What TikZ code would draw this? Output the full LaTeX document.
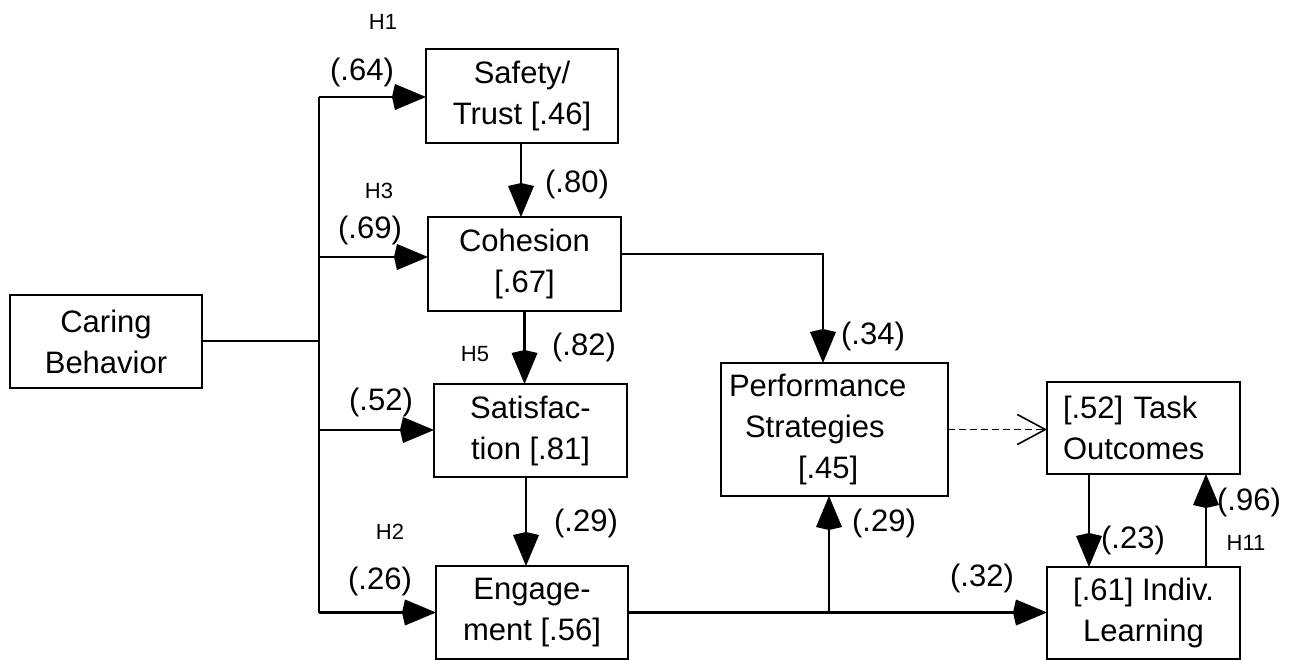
\documentclass[tikz,border=0pt]{standalone}
\usepackage{fontspec}
\setmainfont{Liberation Sans}
\usetikzlibrary{arrows.meta}
\begin{document}
\begin{tikzpicture}[x=1pt,y=-1pt,
  box/.style={draw, line width=2.6pt, inner sep=0pt, outer sep=0pt,
    align=center, font=\fontsize{31}{41}\selectfont},
  lab/.style={inner sep=0pt, font=\fontsize{31}{31}\selectfont},
  hyp/.style={inner sep=0pt, font=\fontsize{22}{22}\selectfont},
  conn/.style={line width=2.2pt},
  head/.style={-{Kite[length=34pt,width=26pt,inset=3pt]}},
  dashline/.style={line width=1.6pt, dash pattern=on 7pt off 4pt,
    -{Straight Barb[length=28pt,width=30pt,line width=1.6pt]}}
]
\useasboundingbox (0,0) rectangle (1298,660);

% constructs
\node[box, minimum width=192pt, minimum height=93pt] (caring) at (106,341.5) {Caring\\Behavior};
\node[box, minimum width=192pt, minimum height=94pt] (safety) at (522,96) {Safety/\\Trust [.46]};
\node[box, minimum width=193pt, minimum height=94pt] (cohesion) at (524.5,264) {Cohesion\\{[}.67]};
\node[box, minimum width=193pt, minimum height=93pt] (satis) at (530.5,430.5) {Satisfac-\\tion [.81]};
\node[box, minimum width=192pt, minimum height=93pt] (engage) at (532,612.5) {Engage-\\ment [.56]};
\node[box, minimum width=227pt, minimum height=133pt, text width=211pt, align=left] (perf) at (834.5,429.5)
  {Performance\\\hspace*{16pt}Strategies\\\hspace*{69pt}[.45]};
\node[box, minimum width=193pt, minimum height=92pt, text width=161pt, align=left] (task) at (1143.5,428)
  {[.52] Task\\Outcomes};
\node[box, minimum width=193pt, minimum height=92pt] (indiv) at (1143.5,613) {[.61] Indiv.\\Learning};

% path coefficients and hypothesis tags
\node[hyp] (h1) at (383,22) {H1};
\node[lab] (p64) at (362,72) {(.64)};
\node[lab] (p80) at (577,184) {(.80)};
\node[hyp] (h3) at (379,191) {H3};
\node[lab] (p69) at (370,230) {(.69)};
\node[hyp] (h5) at (475,354) {H5};
\node[lab] (p82) at (584,347) {(.82)};
\node[lab] (p52) at (381,402) {(.52)};
\node[lab] (p29a) at (586,523) {(.29)};
\node[hyp] (h2) at (390,532) {H2};
\node[lab] (p26) at (380,581) {(.26)};
\node[lab] (p34) at (873,336) {(.34)};
\node[lab] (p29b) at (884,523) {(.29)};
\node[lab] (p32) at (982,578) {(.32)};
\node[lab] (p23) at (1133,540) {(.23)};
\node[lab] (p96) at (1249,502) {(.96)};
\node[hyp] (h11) at (1246,543) {H11};

% trunk from Caring Behavior
\coordinate (jc) at (319,341);
\coordinate (ttop) at (319,97);
\coordinate (t2) at (319,257);
\coordinate (t3) at (319,430);
\coordinate (tbot) at (319,612.5);
\draw[conn] (caring.east |- jc) -- (jc);
\draw[conn] (ttop) -- (tbot);
\draw[conn,head] (ttop) -- (ttop -| safety.west);
\draw[conn,head] (t2) -- (t2 -| cohesion.west);
\draw[conn,head] (t3) -- (t3 -| satis.west);
\draw[conn,head] (tbot) -- (tbot -| engage.west);

% chain down the middle column
\draw[conn,head] ([xshift=-1pt]safety.south) -- ([xshift=-1pt]safety.south |- cohesion.north);
\draw[conn,head] (cohesion.south) -- (cohesion.south |- satis.north);
\draw[conn,head] ([xshift=-4.5pt]satis.south) -- ([xshift=-4.5pt]satis.south |- engage.north);

% Cohesion to Performance Strategies
\coordinate (cbend) at (823,254);
\draw[conn,head] (cohesion.east |- cbend) -- (cbend) -- (cbend |- perf.north);

% Engagement to Individual Learning, branching up to Performance Strategies
\coordinate (pj) at (829,612.5);
\draw[conn,head] (engage.east) -- (engage.east -| indiv.west);
\draw[conn,head] (pj) -- (pj |- perf.south);

% Performance Strategies to Task Outcomes
\draw[dashline] (perf.east) -- (perf.east -| task.west);

% Task Outcomes and Individual Learning
\draw[conn,head] ([xshift=-54.5pt]task.south) -- ([xshift=-54.5pt]indiv.north);
\draw[conn,head] ([xshift=62.5pt]indiv.north) -- ([xshift=62.5pt]task.south);
\end{tikzpicture}
\end{document}
